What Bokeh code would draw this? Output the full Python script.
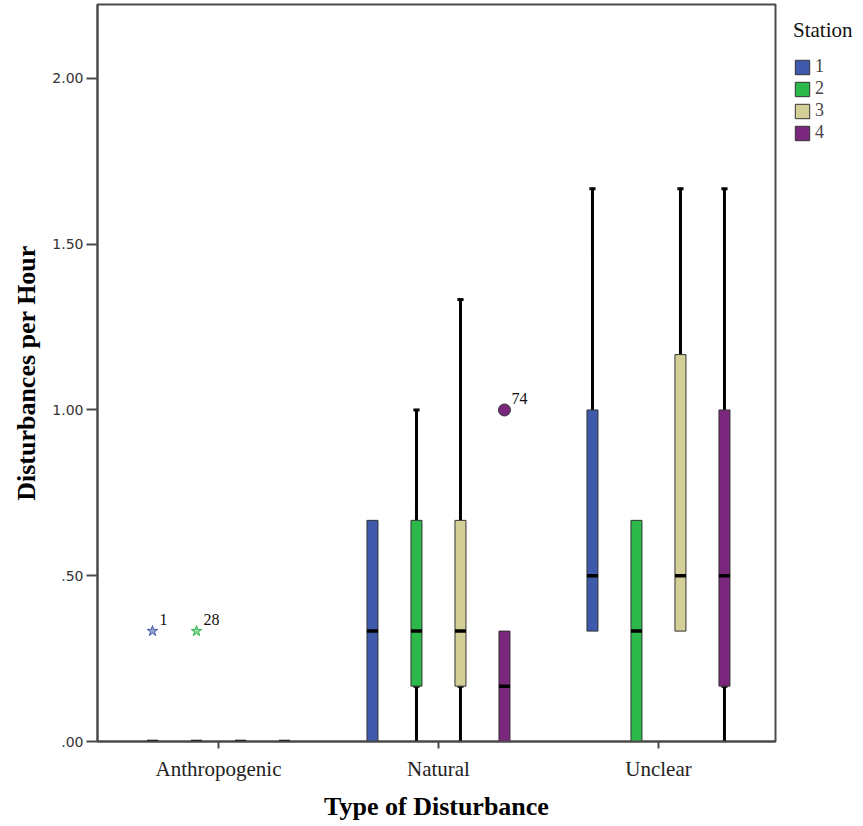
from bokeh.plotting import figure
from bokeh.models import (ColumnDataSource, Range1d, FixedTicker, Legend,
                          LegendItem, LabelSet)
from bokeh.embed import file_html
from bokeh.resources import INLINE

# ---------------- data ----------------
disturbance_types = ["Anthropogenic", "Natural", "Unclear"]
stations = ["1", "2", "3", "4"]
station_colors = ["#3F5AAB", "#2DB84B", "#D4CF97", "#7B277D"]
legend_title = "Station"

# rows: disturbance type, columns: station 1..4
whisker_low = [[0.0, 0.0, 0.0, 0.0],
               [0.0, 0.0, 0.0, 0.0],
               [0.333, 0.0, 0.333, 0.0]]
quartile_1 = [[0.0, 0.0, 0.0, 0.0],
              [0.0, 0.167, 0.167, 0.0],
              [0.333, 0.0, 0.333, 0.167]]
medians = [[0.0, 0.0, 0.0, 0.0],
           [0.333, 0.333, 0.333, 0.167],
           [0.5, 0.333, 0.5, 0.5]]
quartile_3 = [[0.0, 0.0, 0.0, 0.0],
              [0.667, 0.667, 0.667, 0.333],
              [1.0, 0.667, 1.167, 1.0]]
whisker_high = [[0.0, 0.0, 0.0, 0.0],
                [0.667, 1.0, 1.333, 0.333],
                [1.667, 0.667, 1.667, 1.667]]

outlier_type = ["Anthropogenic", "Anthropogenic", "Natural"]
outlier_station = ["1", "2", "4"]
outlier_value = [0.333, 0.333, 1.0]
outlier_label = ["1", "28", "74"]
outlier_extreme = [True, True, False]

y_ticks = [0, 0.5, 1, 1.5, 2]
y_tick_labels = [".00", ".50", "1.00", "1.50", "2.00"]

# ---------------- layout constants ----------------
GROUP_STEP = 0.2
BOX_W = 0.05
CAP_W = 0.028
X_MIN, X_MAX = 0.45, 3.532
Y_MAX = 2.223


def xpos(ti, si):
    return (ti + 1) + (si - 1.5) * GROUP_STEP


p = figure(frame_width=678, frame_height=737,
           x_range=Range1d(X_MIN, X_MAX), y_range=Range1d(0, Y_MAX),
           output_backend="svg", toolbar_location=None,
           min_border_left=97, min_border_top=4, min_border_bottom=78,
           min_border_right=84)
p.background_fill_color = "white"
p.border_fill_color = "white"
p.xgrid.visible = False
p.ygrid.visible = False
p.outline_line_color = "#4a4a4a"
p.outline_line_width = 2

# whiskers
wx, wy0, wy1 = [], [], []
for ti in range(len(disturbance_types)):
    for si in range(len(stations)):
        x = xpos(ti, si)
        if whisker_high[ti][si] > quartile_3[ti][si]:
            wx.append(x); wy0.append(quartile_3[ti][si]); wy1.append(whisker_high[ti][si])
        if whisker_low[ti][si] < quartile_1[ti][si]:
            wx.append(x); wy0.append(whisker_low[ti][si]); wy1.append(quartile_1[ti][si])
wsrc = ColumnDataSource(dict(x=wx, y0=wy0, y1=wy1,
                             xl=[v - CAP_W / 2 for v in wx],
                             xr=[v + CAP_W / 2 for v in wx]))
p.segment(x0="x", y0="y0", x1="x", y1="y1", source=wsrc,
          line_color="black", line_width=3)
p.segment(x0="xl", y0="y1", x1="xr", y1="y1", source=wsrc,
          line_color="black", line_width=3)

# boxes
legend_items = []
for si, st in enumerate(stations):
    xs = [xpos(ti, si) for ti in range(len(disturbance_types))]
    src = ColumnDataSource(dict(
        x=xs,
        bottom=[quartile_1[ti][si] for ti in range(len(disturbance_types))],
        top=[quartile_3[ti][si] for ti in range(len(disturbance_types))],
        med=[medians[ti][si] for ti in range(len(disturbance_types))],
        xl=[v - BOX_W / 2 for v in xs],
        xr=[v + BOX_W / 2 for v in xs],
    ))
    r = p.vbar(x="x", width=BOX_W, bottom="bottom", top="top", source=src,
               fill_color=station_colors[si], line_color="#333333",
               line_width=1)
    p.segment(x0="xl", y0="med", x1="xr", y1="med", source=src,
              line_color="black", line_width=3.5)
    legend_items.append(LegendItem(label=st, renderers=[r]))

# outliers
ox = [xpos(disturbance_types.index(t), stations.index(s))
      for t, s in zip(outlier_type, outlier_station)]
ocol = [station_colors[stations.index(s)] for s in outlier_station]
star_idx = [i for i, e in enumerate(outlier_extreme) if e]
circ_idx = [i for i, e in enumerate(outlier_extreme) if not e]
star_src = ColumnDataSource(dict(x=[ox[i] for i in star_idx],
                                 y=[outlier_value[i] for i in star_idx],
                                 c=[ocol[i] for i in star_idx]))
circ_src = ColumnDataSource(dict(x=[ox[i] for i in circ_idx],
                                 y=[outlier_value[i] for i in circ_idx],
                                 c=[ocol[i] for i in circ_idx]))
p.scatter(x="x", y="y", source=star_src, marker="star", size=11,
          fill_color="c", fill_alpha=0.55, line_color="c", line_width=1)
p.scatter(x="x", y="y", source=circ_src, marker="circle", size=12,
          fill_color="c", line_color="#333333", line_width=1)
lab_src = ColumnDataSource(dict(x=ox, y=outlier_value, t=outlier_label))
p.add_layout(LabelSet(x="x", y="y", text="t", source=lab_src,
                      x_offset=7, y_offset=6, text_baseline="bottom",
                      text_font="Liberation Serif", text_font_size="16px",
                      text_color="#111111"))

# axes
p.xaxis.ticker = FixedTicker(ticks=[1, 2, 3])
p.xaxis.major_label_overrides = {i + 1: t for i, t in enumerate(disturbance_types)}
p.xaxis.axis_label = "Type of Disturbance"
p.yaxis.ticker = FixedTicker(ticks=y_ticks)
p.yaxis.major_label_overrides = dict(zip(y_ticks, y_tick_labels))
p.yaxis.axis_label = "Disturbances per Hour"
for ax in (p.xaxis[0], p.yaxis[0]):
    ax.axis_line_color = "#4a4a4a"
    ax.axis_line_width = 2
    ax.major_tick_line_color = "#4a4a4a"
    ax.major_tick_line_width = 2
    ax.major_tick_in = 0
    ax.minor_tick_line_color = None
    ax.axis_label_text_font = "Liberation Serif"
    ax.axis_label_text_font_style = "bold"
    ax.axis_label_text_color = "black"
p.xaxis.major_tick_out = 7
p.xaxis.major_label_standoff = 8
p.xaxis.major_label_text_font = "Liberation Serif"
p.xaxis.major_label_text_font_size = "21px"
p.xaxis.major_label_text_color = "#222222"
p.xaxis.axis_label_text_font_size = "26px"
p.xaxis.axis_label_standoff = 8
p.yaxis.major_tick_out = 11
p.yaxis.major_label_standoff = 3
p.yaxis.major_label_text_font = "DejaVu Sans"
p.yaxis.major_label_text_font_size = "14px"
p.yaxis.major_label_text_color = "#333333"
p.yaxis.axis_label_text_font_size = "26px"
p.yaxis.axis_label_standoff = 8

legend = Legend(items=legend_items, location=(18, 598), title=legend_title,
                orientation="vertical", border_line_color=None,
                background_fill_alpha=0, margin=0, padding=0,
                glyph_width=18, glyph_height=18, label_height=18,
                spacing=1, label_standoff=4, title_standoff=13,
                title_text_font="Liberation Serif",
                title_text_font_size="21px",
                title_text_font_style="normal",
                title_text_color="#111111",
                label_text_font="Liberation Serif",
                label_text_font_size="18px")
p.add_layout(legend, "right")

open("out.html", "w").write(file_html(p, INLINE))
